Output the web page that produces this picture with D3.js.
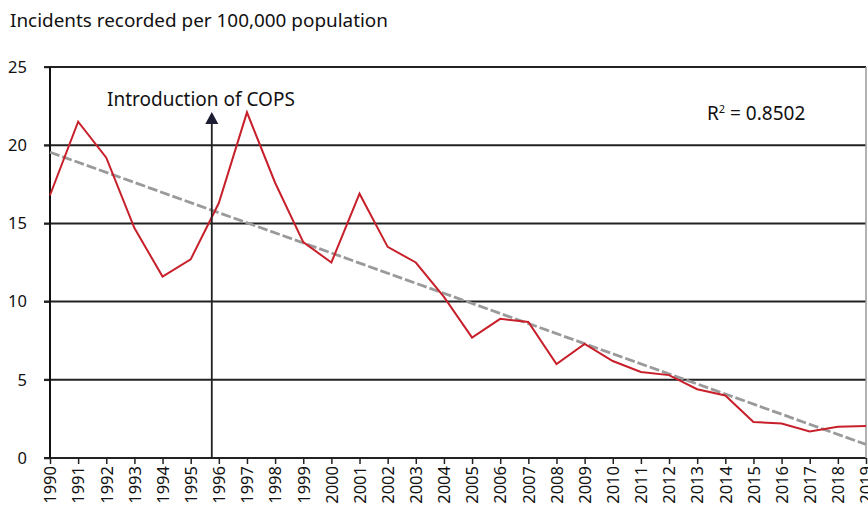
<!DOCTYPE html>
<head>
  <meta charset="utf-8">
  <script src="https://d3js.org/d3.v7.min.js"></script>
  <style>
    body { margin:0; background:#fff; }
    text { font-family: "Noto Sans", "Open Sans", sans-serif; fill:#111; }
    .axis text { font-size: 16.5px; }
    .axis .domain { display:none; }
    .axis line { stroke:#222; stroke-width:1.5px; }
  </style>
</head>
<body>
  <div class="chart"></div>
  <script>
    const years = d3.range(1990, 2020);
    const incidents = [16.8, 21.5, 19.2, 14.7, 11.6, 12.7, 16.3, 22.1, 17.6, 13.8,
                       12.5, 16.9, 13.5, 12.5, 10.3, 7.7, 8.9, 8.7, 6.0, 7.3,
                       6.2, 5.5, 5.3, 4.4, 4.0, 2.3, 2.2, 1.7, 2.0, 2.05];
    const yTicks = [0, 5, 10, 15, 20, 25];
    const copsYear = 1995.75;
    const copsLabel = 'Introduction of COPS';
    const r2Label = '0.8502';
    const yTitle = 'Incidents recorded per 100,000 population';

    const W = 868, H = 517;
    const margin = { top: 67, right: 2, bottom: 59, left: 50 };

    const svg = d3.select('.chart').append('svg')
      .attr('width', W).attr('height', H);

    const x = d3.scaleLinear().domain([1990, 2019]).range([margin.left, W - margin.right]);
    const y = d3.scaleLinear().domain([0, 25]).range([H - margin.bottom, margin.top]);

    // title
    svg.append('text')
      .attr('x', 10).attr('y', 27)
      .style('font-size', '18.9px')
      .text(yTitle);

    // horizontal grid lines
    svg.append('g').selectAll('line')
      .data(yTicks)
      .enter().append('line')
      .attr('x1', margin.left - 6).attr('x2', W - margin.right)
      .attr('y1', d => y(d)).attr('y2', d => y(d))
      .attr('stroke', '#222').attr('stroke-width', 2);

    // right border
    svg.append('line')
      .attr('x1', x(2019)).attr('x2', x(2019))
      .attr('y1', y(25)).attr('y2', y(0))
      .attr('stroke', '#999').attr('stroke-width', 1.5);

    // y axis
    svg.append('g')
      .attr('class', 'axis')
      .attr('transform', `translate(${margin.left},0)`)
      .call(d3.axisLeft(y).tickValues(yTicks).tickSize(6).tickPadding(17));
    svg.append('line')
      .attr('x1', margin.left).attr('x2', margin.left)
      .attr('y1', y(25)).attr('y2', y(0))
      .attr('stroke', '#111').attr('stroke-width', 2);

    // x axis
    const xAxis = svg.append('g')
      .attr('class', 'axis')
      .attr('transform', `translate(0,${y(0)})`)
      .call(d3.axisBottom(x).tickValues(years).tickFormat(d3.format('d')).tickSize(6));
    xAxis.selectAll('text')
      .attr('transform', 'rotate(-90)')
      .attr('x', -8).attr('y', 0).attr('dy', '0.35em')
      .style('text-anchor', 'end');

    // trend line (least squares)
    const mx = d3.mean(years), my = d3.mean(incidents);
    let sxy = 0, sxx = 0;
    years.forEach((yr, i) => { sxy += (yr - mx) * (incidents[i] - my); sxx += (yr - mx) * (yr - mx); });
    const slope = sxy / sxx, icpt = my - slope * mx;

    svg.append('line')
      .attr('x1', x(1990)).attr('y1', y(icpt + slope * 1990))
      .attr('x2', x(2019)).attr('y2', y(icpt + slope * 2019))
      .attr('stroke', '#9a9a9a').attr('stroke-width', 2.8)
      .attr('stroke-dasharray', '10,3');

    // data line
    const line = d3.line().x((d, i) => x(years[i])).y(d => y(d));
    svg.append('path')
      .datum(incidents)
      .attr('d', line)
      .attr('fill', 'none')
      .attr('stroke', '#c8202b')
      .attr('stroke-width', 2);

    // COPS arrow
    svg.append('line')
      .attr('x1', x(copsYear)).attr('x2', x(copsYear))
      .attr('y1', y(0)).attr('y2', 124)
      .attr('stroke', '#222').attr('stroke-width', 1.8);
    svg.append('path')
      .attr('d', `M${x(copsYear) - 6.5},124 L${x(copsYear)},112 L${x(copsYear) + 6.5},124 Z`)
      .attr('fill', '#1c1c33');

    svg.append('text')
      .attr('x', 107).attr('y', 106)
      .style('font-size', '19px')
      .text(copsLabel);

    // R squared
    const r2 = svg.append('text')
      .attr('x', 707).attr('y', 120)
      .style('font-size', '19px');
    r2.append('tspan').text('R');
    r2.append('tspan').attr('dy', -7).style('font-size', '11px').text('2');
    r2.append('tspan').attr('dy', 7).text(' = ' + r2Label);
  </script>
</body>
